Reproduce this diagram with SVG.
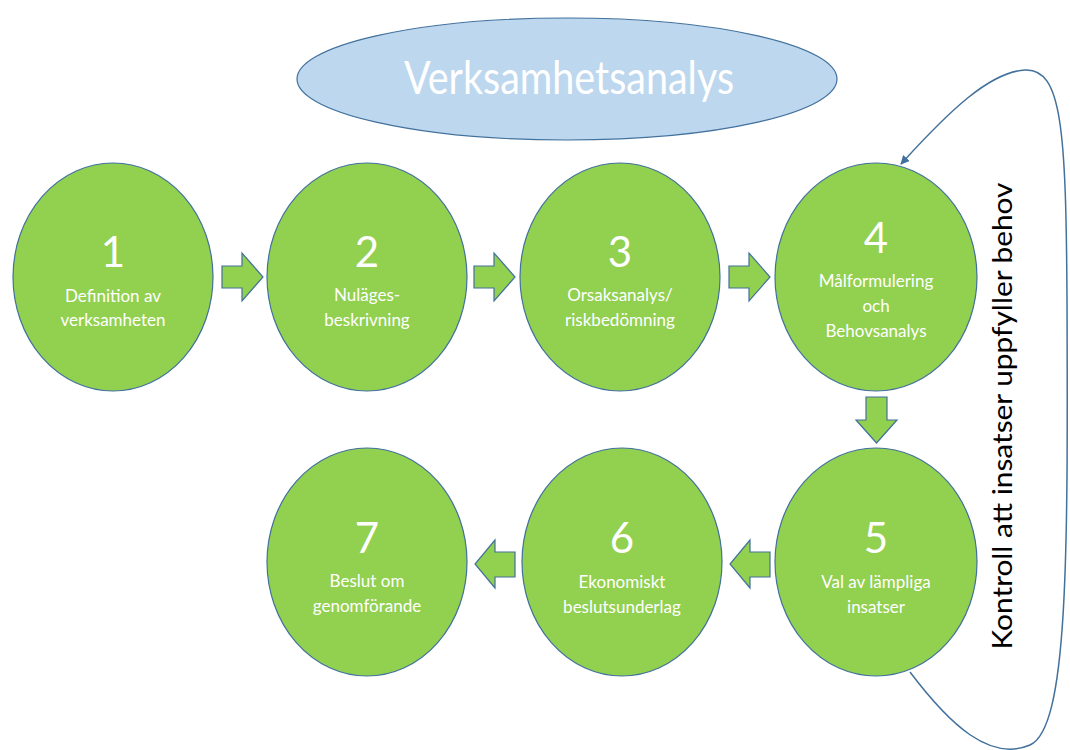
<svg xmlns="http://www.w3.org/2000/svg" width="1070" height="750" viewBox="0 0 1070 750">
<defs>
<style>
.node{fill:#92D050;stroke:#41719C;stroke-width:1.2}
.barr{fill:#92D050;stroke:#41719C;stroke-width:1.2}
.num{font-family:Lato,"Open Sans",sans-serif;font-size:42px;fill:#fff;text-anchor:middle}
.lbl{font-family:Lato,"Open Sans",sans-serif;font-size:17px;fill:#fff;text-anchor:middle}
.title{font-family:Lato,"Open Sans",sans-serif;font-size:46px;fill:#fff;text-anchor:middle}
.side{font-family:Lato,"Open Sans",sans-serif;font-size:26px;fill:#000;text-anchor:middle}
.conn{fill:none;stroke:#41719C;stroke-width:1.5}
</style>
<marker id="ah" viewBox="0 0 10 10" refX="9" refY="5" markerWidth="9" markerHeight="9" markerUnits="userSpaceOnUse" orient="auto">
<path d="M0,0 L10,5 L0,10 Z" fill="#41719C"/>
</marker>
</defs>
<rect width="1070" height="750" fill="#fff"/>

<g id="title">
<ellipse cx="567" cy="79" rx="270" ry="61" fill="#BDD7EE" stroke="#41719C" stroke-width="1.2"/>
<text class="title" x="569" y="94" textLength="330" lengthAdjust="spacingAndGlyphs">Verksamhetsanalys</text>
</g>

<g id="connectors">
<path class="barr" d="M222,266 H242 V253 L263,277 L242,301 V288 H222 Z"/>
<path class="barr" d="M474,266 H494 V253 L515,277 L494,301 V288 H474 Z"/>
<path class="barr" d="M729,266 H749 V253 L770,277 L749,301 V288 H729 Z"/>
<path class="barr" d="M866,397 H887 V420 H897 L876.5,443 L856,420 H866 Z"/>
<path class="barr" d="M770,552 H750 V540 L730,564 L750,588 V577 H770 Z"/>
<path class="barr" d="M515,552 H495 V540 L475,564 L495,588 V577 H515 Z"/>
<path class="conn" marker-end="url(#ah)" d="M910,672 C950,725 990,762 1030,745 C1068,728 1068,560 1067,300 C1066,130 1062,68 1025,70 C990,72 950,110 901,164"/>
</g>

<g id="label-kontroll">
<text class="side" transform="translate(1012,416) rotate(-90)" x="0" y="0" textLength="467" lengthAdjust="spacingAndGlyphs">Kontroll att insatser uppfyller behov</text>
</g>

<g id="n1">
<ellipse class="node" cx="113" cy="277" rx="100" ry="114"/>
<text class="num" x="113" y="267">1</text>
<text class="lbl" x="113" y="302">Definition av</text>
<text class="lbl" x="113" y="326">verksamheten</text>
</g>
<g id="n2">
<ellipse class="node" cx="367" cy="277" rx="100" ry="114"/>
<text class="num" x="367" y="267">2</text>
<text class="lbl" x="367" y="301">Nuläges-</text>
<text class="lbl" x="367" y="326">beskrivning</text>
</g>
<g id="n3">
<ellipse class="node" cx="620" cy="277" rx="100" ry="114"/>
<text class="num" x="620" y="267">3</text>
<text class="lbl" x="620" y="301">Orsaksanalys/</text>
<text class="lbl" x="620" y="326">riskbedömning</text>
</g>
<g id="n4">
<ellipse class="node" cx="876" cy="277" rx="101" ry="114"/>
<text class="num" x="876" y="253">4</text>
<text class="lbl" x="876" y="287">Målformulering</text>
<text class="lbl" x="876" y="312">och</text>
<text class="lbl" x="876" y="337">Behovsanalys</text>
</g>
<g id="n5">
<ellipse class="node" cx="876" cy="562" rx="101" ry="114"/>
<text class="num" x="876" y="553">5</text>
<text class="lbl" x="876" y="588">Val av lämpliga</text>
<text class="lbl" x="876" y="613">insatser</text>
</g>
<g id="n6">
<ellipse class="node" cx="622" cy="562" rx="100" ry="114"/>
<text class="num" x="622" y="553">6</text>
<text class="lbl" x="622" y="588">Ekonomiskt</text>
<text class="lbl" x="622" y="613">beslutsunderlag</text>
</g>
<g id="n7">
<ellipse class="node" cx="367" cy="562" rx="100" ry="114"/>
<text class="num" x="367" y="553">7</text>
<text class="lbl" x="367" y="587">Beslut om</text>
<text class="lbl" x="367" y="612">genomförande</text>
</g>
</svg>
